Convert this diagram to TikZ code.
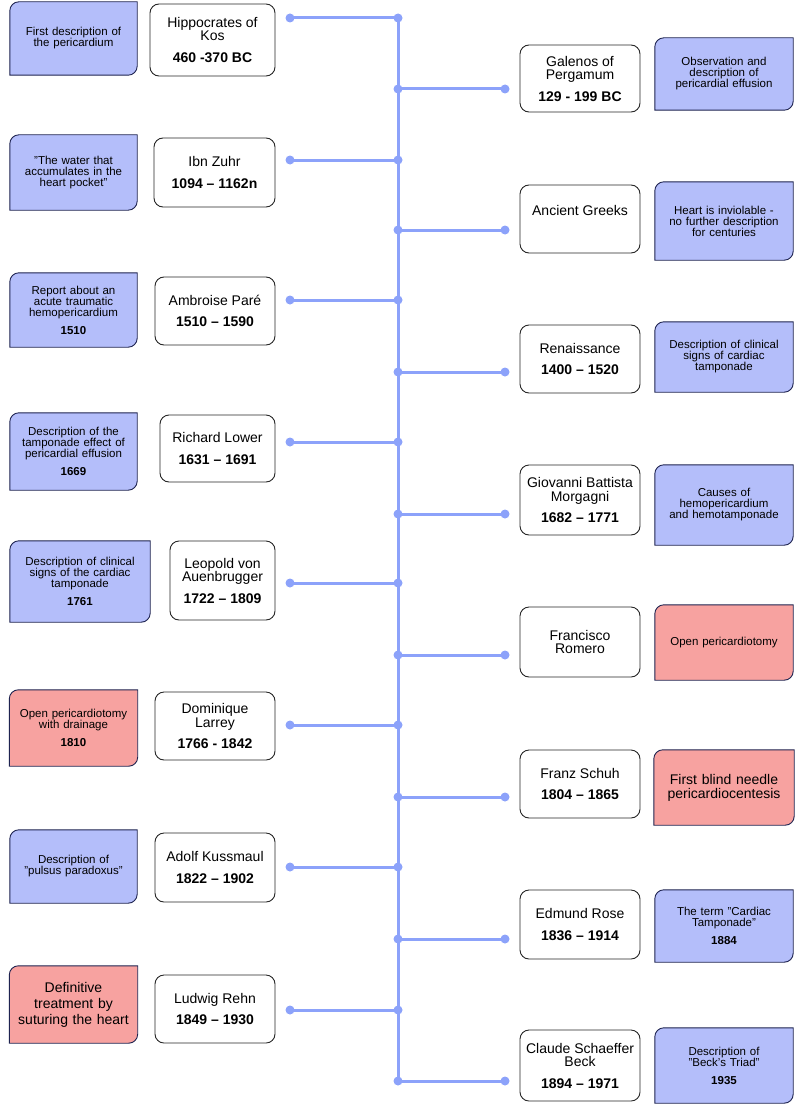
\documentclass[tikz,border=0pt]{standalone}
\usepackage{fontspec}
\setmainfont{Liberation Sans}
\usepackage{xcolor}
\usetikzlibrary{positioning, calc, backgrounds}

\definecolor{spineblue}{RGB}{140,162,250}
\definecolor{noteblue}{RGB}{180,190,250}
\definecolor{notered}{RGB}{247,162,160}
\definecolor{navy}{RGB}{30,35,80}

% outline of a note: rounded top left and bottom right corners
\newcommand{\noteshape}[2]{%
  \begin{scope}[on background layer]
  \filldraw[fill=#2, draw=navy, line width=0.9pt]
    ($(#1.north west)+(0,-9pt)$) arc[start angle=180, end angle=90, radius=9pt]
    -- (#1.north east) -- ($(#1.south east)+(0,9pt)$)
    arc[start angle=0, end angle=-90, radius=9pt] -- (#1.south west) -- cycle;
  \end{scope}}
\newcommand{\q}{\symbol{34}}

\begin{document}
\begin{tikzpicture}[x=1pt, y=-1pt]
% style: person_box
\tikzstyle{person_box}=[draw=black!85,line width=0.9pt,rounded corners=9pt,fill=white,align=center,font=\fontsize{14}{13.5}\selectfont,inner sep=1pt]
% style: note_box
\tikzstyle{note_box}=[align=center,font=\fontsize{11.5}{11}\selectfont,inner sep=1pt]
% style: dot
\tikzstyle{dot}=[circle,fill=spineblue,inner sep=0pt,minimum size=9pt]
% style: branch
\tikzstyle{branch}=[spineblue,line width=3pt]
\newcommand{\yr}[1]{\\[8pt]\textbf{#1}}

\useasboundingbox (0,0) rectangle (796,1105);

% node group: left side
\node[person_box, minimum width=125pt, minimum height=72pt] (hippocrates) at (212.5,40) {Hippocrates of\\Kos\yr{460 -370 BC}};
\node[note_box, minimum width=127pt, minimum height=73pt, text width=122pt] (hippocrates_note) at (73.5,38.5) {First description of\\the pericardium\\[14pt]};
\node[person_box, minimum width=121pt, minimum height=69pt] (ibnzuhr) at (214.5,172.5) {Ibn Zuhr\yr{1094 -- 1162n}};
\node[note_box, minimum width=127pt, minimum height=75pt, text width=122pt] (ibnzuhr_note) at (73.5,172.5) {\q The water that\\accumulates in the\\heart pocket\q};
\node[person_box, minimum width=120pt, minimum height=68pt] (pare) at (215,311) {Ambroise Paré\yr{1510 -- 1590}};
\node[note_box, minimum width=127pt, minimum height=74pt, text width=122pt] (pare_note) at (73.5,310) {Report about an\\acute traumatic\\hemopericardium\\[7pt]\textbf{1510}};
\node[person_box, minimum width=115pt, minimum height=67pt] (lower) at (217.5,448.5) {Richard Lower\yr{1631 -- 1691}};
\node[note_box, minimum width=127pt, minimum height=77pt, text width=124pt] (lower_note) at (73.5,451.5) {Description of the\\tamponade effect of\\pericardial effusion\\[7pt]\textbf{1669}};
\node[person_box, minimum width=105pt, minimum height=79pt] (auenbrugger) at (222.5,580.5) {Leopold von\\Auenbrugger\yr{1722 -- 1809}};
\node[note_box, minimum width=140pt, minimum height=81pt, text width=136pt] (auenbrugger_note) at (80,581.5) {Description of clinical\\signs of the cardiac\\tamponade\\[7pt]\textbf{1761}};
\node[person_box, minimum width=120pt, minimum height=68pt] (larrey) at (215,726) {Dominique\\Larrey\yr{1766 - 1842}};
\node[note_box, minimum width=127pt, minimum height=76pt, text width=126pt] (larrey_note) at (73.5,728) {Open pericardiotomy\\with drainage\\[7pt]\textbf{1810}};
\node[person_box, minimum width=120pt, minimum height=69pt] (kussmaul) at (215,867.5) {Adolf Kussmaul\yr{1822 -- 1902}};
\node[note_box, minimum width=127pt, minimum height=73pt, text width=122pt] (kussmaul_note) at (73.5,866.5) {Description of\\\q pulsus paradoxus\q};
\node[person_box, minimum width=120pt, minimum height=68pt] (rehn) at (215,1009) {Ludwig Rehn\yr{1849 -- 1930}};
\node[note_box, minimum width=127pt, minimum height=77pt, text width=126pt, font=\fontsize{14}{16}\selectfont] (rehn_note) at (73.5,1004.5) {Definitive\\treatment by\\suturing the heart};

% node group: right side
\node[person_box, minimum width=120pt, minimum height=67pt] (galenos) at (580,78.5) {Galenos of\\Pergamum\yr{129 - 199 BC}};
\node[note_box, minimum width=138pt, minimum height=72pt, text width=134pt] (galenos_note) at (724,74) {Observation and\\description of\\pericardial effusion};
\node[person_box, minimum width=120pt, minimum height=68pt] (greeks) at (580,219) {Ancient Greeks\\[4pt]};
\node[note_box, minimum width=138pt, minimum height=78pt, text width=134pt] (greeks_note) at (724,221) {Heart is inviolable -\\no further description\\for centuries};
\node[person_box, minimum width=120pt, minimum height=68pt] (renaissance) at (580,359) {Renaissance\yr{1400 -- 1520}};
\node[note_box, minimum width=138pt, minimum height=70pt, text width=134pt] (renaissance_note) at (724,357) {Description of clinical\\signs of cardiac\\tamponade\\[12pt]};
\node[person_box, minimum width=120pt, minimum height=70pt] (morgagni) at (580,500) {Giovanni Battista\\Morgagni\yr{1682 -- 1771}};
\node[note_box, minimum width=138pt, minimum height=80pt, text width=134pt] (morgagni_note) at (724,505) {Causes of\\hemopericardium\\and hemotamponade};
\node[person_box, minimum width=120pt, minimum height=70pt] (romero) at (580,642) {Francisco\\Romero};
\node[note_box, minimum width=138pt, minimum height=75pt, text width=134pt] (romero_note) at (724,642.5) {Open pericardiotomy};
\node[person_box, minimum width=120pt, minimum height=68pt] (schuh) at (580,784) {Franz Schuh\yr{1804 -- 1865}};
\node[note_box, minimum width=138pt, minimum height=75pt, text width=138pt, font=\fontsize{14}{14}\selectfont] (schuh_note) at (724,787.5) {First blind needle\\pericardiocentesis};
\node[person_box, minimum width=120pt, minimum height=69pt] (rose) at (580,924.5) {Edmund Rose\yr{1836 -- 1914}};
\node[note_box, minimum width=138pt, minimum height=72pt, text width=134pt] (rose_note) at (724,926) {The term \q Cardiac\\Tamponade\q\\[7pt]\textbf{1884}};
\node[person_box, minimum width=120pt, minimum height=71pt] (beck) at (580,1065.5) {Claude Schaeffer\\Beck\yr{1894 -- 1971}};
\node[note_box, minimum width=138pt, minimum height=75pt, text width=134pt] (beck_note) at (724,1065.5) {Description of\\\q Beck's Triad\q\\[7pt]\textbf{1935}};

% note outlines
\foreach \n/\c in {hippocrates/noteblue, ibnzuhr/noteblue, pare/noteblue, lower/noteblue,
    auenbrugger/noteblue, larrey/notered, kussmaul/noteblue, rehn/notered,
    galenos/noteblue, greeks/noteblue, renaissance/noteblue, morgagni/noteblue,
    romero/notered, schuh/notered, rose/noteblue, beck/noteblue}
  {\noteshape{\n_note}{\c}}

% timeline dots
\foreach \n/\y in {hippocrates/18, ibnzuhr/160, pare/300, lower/442, auenbrugger/583, larrey/725, kussmaul/867, rehn/1010}
  {\node[dot] (\n_spine) at (398,\y) {};
   \node[dot] (\n_end) at (290,\y) {};}
\foreach \n/\y in {galenos/89, greeks/230, renaissance/372, morgagni/514, romero/655, schuh/797, rose/939, beck/1081}
  {\node[dot] (\n_spine) at (398,\y) {};
   \node[dot] (\n_end) at (505,\y) {};}

% spine and branches
\begin{scope}[on background layer]
\draw[branch] (hippocrates_spine.center) -- (beck_spine.center);
\foreach \n in {hippocrates, ibnzuhr, pare, lower, auenbrugger, larrey, kussmaul, rehn,
    galenos, greeks, renaissance, morgagni, romero, schuh, rose, beck}
  {\draw[branch] (\n_spine.center) -- (\n_end.center);}
\end{scope}

\end{tikzpicture}
\end{document}
